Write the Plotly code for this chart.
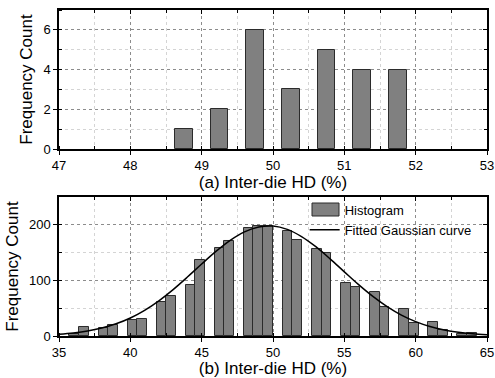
import plotly.graph_objects as go
from plotly.subplots import make_subplots

# ---- data ----
top_centers = [48.75, 49.25, 49.75, 50.25, 50.75, 51.25, 51.75]
top_counts = [1, 2, 6, 3, 5, 4, 4]

bot_centers = [36.07, 36.75, 38.11, 38.79, 40.15, 40.83, 42.18, 42.86, 44.21, 44.89,
               46.25, 46.93, 48.28, 48.96, 49.65, 51.02, 51.70, 53.06, 53.75, 55.10,
               55.79, 57.14, 57.82, 59.18, 59.86, 61.22, 61.90, 63.25, 63.93]
bot_counts = [4, 17, 14, 20, 28, 30, 62, 72, 92, 136,
              158, 171, 194, 198, 198, 189, 173, 157, 149, 96,
              89, 80, 52, 49, 23, 26, 11, 3, 5]

fit_x = [35, 36, 37, 38, 39, 40, 41, 42, 43, 44, 45, 46, 47, 48, 49, 50,
         51, 52, 53, 54, 55, 56, 57, 58, 59, 60, 61, 62, 63, 64, 65]
fit_y = [3.1, 5.4, 8.9, 14.3, 21.9, 32.4, 46.2, 63.3, 83.5, 106.0, 129.5, 152.2,
         172.1, 187.3, 196.1, 197.7, 191.7, 178.8, 160.6, 138.8, 115.4, 92.3,
         71.1, 52.7, 37.5, 25.8, 17.0, 10.8, 6.6, 3.9, 2.2]

top_xticks = [47, 48, 49, 50, 51, 52, 53]
top_yticks = [0, 2, 4, 6]
bot_xticks = [35, 40, 45, 50, 55, 60, 65]
bot_yticks = [0, 100, 200]

FONT = "Liberation Sans, Arial, sans-serif"
BAR = "#808080"
EDGE = "#2b2b2b"

fig = make_subplots(rows=2, cols=1, vertical_spacing=0.1472)

fig.add_trace(go.Bar(x=top_centers, y=top_counts, width=0.25,
                     marker=dict(color=BAR, line=dict(color=EDGE, width=1)),
                     showlegend=False), row=1, col=1)
fig.add_trace(go.Bar(x=bot_centers, y=bot_counts, width=0.68, name="Histogram",
                     marker=dict(color=BAR, line=dict(color=EDGE, width=1)),
                     showlegend=False),
              row=2, col=1)
# legend entry for the histogram (its swatch is drawn as a wider rectangle below)
fig.add_trace(go.Scatter(x=[None], y=[None], mode="markers", name="Histogram",
                         marker=dict(color="rgba(0,0,0,0)", size=1)),
              row=2, col=1)
fig.add_trace(go.Scatter(x=fit_x, y=fit_y, mode="lines", name="Fitted Gaussian curve",
                         line=dict(color="black", width=1.5, shape="spline")),
              row=2, col=1)

major_grid = dict(showgrid=True, gridcolor="#8c8c8c", griddash="dot", gridwidth=1)
common = dict(showline=True, linecolor="black", linewidth=1.5, mirror=True,
              ticks="outside", ticklen=4, tickcolor="black", tickwidth=1,
              tickfont=dict(family=FONT, size=13, color="black"),
              zeroline=False, automargin=False, **major_grid)

def minor(d):
    return dict(dtick=d, showgrid=True, gridcolor="#d4d4d4", gridwidth=1,
                ticks="inside", ticklen=3, tickcolor="black")

TFONT = dict(family=FONT, size=17, color="black")
fig.update_xaxes(range=[47, 53], tickvals=top_xticks, minor=minor(0.5),
                 title=dict(text="(a) Inter-die HD (%)", standoff=0, font=TFONT),
                 **common, row=1, col=1)
fig.update_yaxes(range=[0, 7], tickvals=top_yticks, minor=minor(1),
                 title=dict(text="Frequency Count", standoff=6, font=TFONT),
                 **common, row=1, col=1)
fig.update_xaxes(range=[35, 65], tickvals=bot_xticks, minor=minor(2.5),
                 title=dict(text="(b) Inter-die HD (%)", standoff=0, font=TFONT),
                 **common, row=2, col=1)
fig.update_yaxes(range=[0, 250], tickvals=bot_yticks, minor=minor(50),
                 title=dict(text="Frequency Count", standoff=6, font=TFONT),
                 **common, row=2, col=1)

# mirrored inward ticks on top/right edges
def mirror_axes(xref, yref, xr, yr, xt, yt, xm, ym, n):
    fig.update_layout(**{
        f"xaxis{n}": dict(overlaying=xref, anchor=yref, side="top", range=xr,
                          tickvals=xt, ticks="inside", ticklen=4, tickcolor="black",
                          showticklabels=False, showgrid=False, zeroline=False,
                          automargin=False,
                          minor=dict(dtick=xm, ticks="inside", ticklen=3, tickcolor="black", showgrid=False)),
        f"yaxis{n}": dict(overlaying=yref, anchor=xref, side="right", range=yr,
                          tickvals=yt, ticks="inside", ticklen=4, tickcolor="black",
                          showticklabels=False, showgrid=False, zeroline=False,
                          automargin=False,
                          minor=dict(dtick=ym, ticks="inside", ticklen=3, tickcolor="black", showgrid=False)),
    })

mirror_axes("x", "y", [47, 53], [0, 7], top_xticks, top_yticks, 0.5, 1, 3)
mirror_axes("x2", "y2", [35, 65], [0, 250], bot_xticks, bot_yticks, 2.5, 50, 4)
fig.add_trace(go.Scatter(x=[47], y=[0], xaxis="x3", yaxis="y3", mode="markers",
                         marker=dict(opacity=0), showlegend=False, hoverinfo="skip"))
fig.add_trace(go.Scatter(x=[35], y=[0], xaxis="x4", yaxis="y4", mode="markers",
                         marker=dict(opacity=0), showlegend=False, hoverinfo="skip"))

# wider legend swatch for the histogram entry (legend decoration)
fig.add_shape(type="rect", xref="paper", yref="paper",
              x0=(312 - 59) / 428, x1=(339 - 59) / 428,
              y0=(336 - 216) / 326, y1=(336 - 203) / 326,
              fillcolor=BAR, line=dict(color=EDGE, width=1), layer="above")

fig.update_layout(
    width=495, height=378,
    margin=dict(l=59, r=8, t=10, b=42),
    plot_bgcolor="white", paper_bgcolor="white",
    bargap=0,
    font=dict(family=FONT, size=13, color="black"),
    legend=dict(x=0.574, y=0.433, xanchor="left", yanchor="top",
                bgcolor="rgba(0,0,0,0)", borderwidth=0,
                font=dict(family=FONT, size=13, color="black"),
                tracegroupgap=0, itemwidth=30),
)

fig.write_html("out.html", config={"displayModeBar": False},
               post_script="document.body.style.margin='0';document.body.style.padding='0';")
